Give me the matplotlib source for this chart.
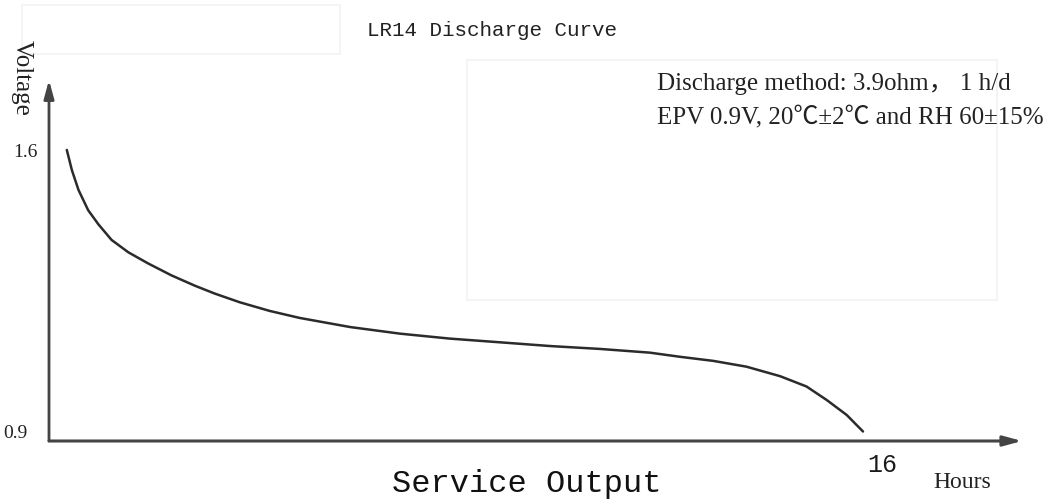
import numpy as np
import matplotlib
matplotlib.use("Agg")
import matplotlib.pyplot as plt
from matplotlib.patches import Rectangle

# LR14 discharge curve
hours = [0.35, 0.45, 0.58, 0.77, 0.97, 1.23, 1.56, 1.95, 2.41, 2.87, 3.26, 3.75,
         4.34, 4.93, 5.92, 6.90, 7.88, 8.87, 9.85, 10.83, 11.81, 12.40, 13.06,
         13.71, 14.37, 14.89, 15.29, 15.68, 16.0]
voltage = [1.605, 1.556, 1.508, 1.459, 1.425, 1.387, 1.357, 1.330, 1.301, 1.276, 1.257, 1.236,
           1.215, 1.198, 1.176, 1.160, 1.148, 1.139, 1.130, 1.123, 1.114, 1.104, 1.094,
           1.080, 1.057, 1.032, 0.999, 0.963, 0.923]
y_ticks = [0.9, 1.6]
y_tick_labels = ["0.9", "1.6"]
x_end = 16

W, H = 1059, 503
serif = ["Liberation Serif", "Noto Sans CJK SC", "DejaVu Serif"]
mono = ["Liberation Mono", "DejaVu Sans Mono"]


def fx(x):
    return x / W


def fy(y):
    return 1 - y / H


fig = plt.figure(figsize=(W / 100, H / 100), dpi=100)
fig.patch.set_facecolor("white")

# faint boxes left over in the original image
fig.patches.append(Rectangle((fx(22), fy(54)), fx(318), 49 / H, transform=fig.transFigure,
                             fill=False, edgecolor="#f2f2f2", lw=1.2))
fig.patches.append(Rectangle((fx(467), fy(300)), fx(530), 240 / H, transform=fig.transFigure,
                             fill=False, edgecolor="#f2f2f2", lw=1.2))

# axes: y axis at x=49px, 0.9 V at y=441px, 1.6 V at y=152px, 16 h at x=863px
left, right, top, bottom = 49, 1022, 80, 441
ax = fig.add_axes([fx(left), fy(bottom), fx(right - left), (bottom - top) / H])
px_per_h = (863 - left) / 16
v_per_px = 0.7 / (441 - 152)
ax.set_xlim(0, (right - left) / px_per_h)
ax.set_ylim(0.9, 0.9 + (bottom - top) * v_per_px)
ax.axis("off")

ax.plot(hours, voltage, color="#2b2b2b", lw=1.8, solid_capstyle="round", solid_joinstyle="round")

# arrow axes
ax.annotate("", xy=(1, 0), xytext=(0, 0), xycoords="axes fraction",
            arrowprops=dict(arrowstyle="-|>,head_length=1.1,head_width=0.3",
                            color="#444444", lw=2.2, shrinkA=0, shrinkB=0))
ax.annotate("", xy=(0, 1), xytext=(0, 0), xycoords="axes fraction",
            arrowprops=dict(arrowstyle="-|>,head_length=1.1,head_width=0.3",
                            color="#444444", lw=2.0, shrinkA=0, shrinkB=0))

# y tick labels
ytr = ax.get_yaxis_transform()
ax.text(-11 / (right - left), y_ticks[1], y_tick_labels[1], transform=ytr,
        ha="right", va="center", fontsize=14, family=serif, color="#222222")
ax.text(-21 / (right - left), y_ticks[0] + 8 * v_per_px, y_tick_labels[0], transform=ytr,
        ha="right", va="center", fontsize=14, family=serif, color="#222222")

# x end label
ax.annotate(str(x_end), xy=(x_end, 0.9), xytext=(3, -17), textcoords="offset points",
            ha="left", va="center", fontsize=18, family=mono, color="#1a1a1a")

# texts
fig.text(fx(22), fy(78), "Voltage", rotation=270, ha="center", va="center",
         fontsize=18, family=serif, color="#222222")
fig.text(fx(492), fy(31), "LR14 Discharge Curve", ha="center", va="center",
         fontsize=15, family=mono, color="#222222")
fig.text(fx(527), fy(484), "Service Output", ha="center", va="center",
         fontsize=23, family=mono, color="#111111")
fig.text(fx(962), fy(482), "Hours", ha="center", va="center",
         fontsize=17, family=serif, color="#222222")
fig.text(fx(657), fy(84), "Discharge method: 3.9ohm\uff0c 1 h/d", ha="left", va="center",
         fontsize=18, family=serif, color="#222222")
fig.text(fx(657), fy(118), "EPV 0.9V, 20\u2103\u00b12\u2103 and RH 60\u00b115%", ha="left", va="center",
         fontsize=18, family=serif, color="#222222")

fig.savefig("out.png", dpi=100, facecolor="white")
